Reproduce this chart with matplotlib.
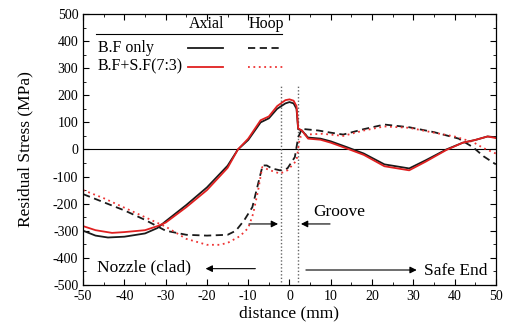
import matplotlib
matplotlib.use("Agg")
import matplotlib.pyplot as plt
from matplotlib.ticker import MultipleLocator

plt.rcParams['font.family'] = ['Liberation Serif', 'DejaVu Serif']
plt.rcParams['axes.unicode_minus'] = False

# axial stress, B.F only
axial_bf_x = [-50, -47, -44, -40, -35, -32, -30, -25, -20, -15, -12.5, -10, -7, -5, -3, -1, 0, 1, 1.7,
              2.1, 3, 4.5, 7.5, 10, 14, 18, 23, 29, 33, 38, 42, 45, 48, 50]
axial_bf_y = [-300, -318, -325, -322, -310, -290, -265, -205, -140, -60, 0, 35, 100, 115, 150, 170, 175, 170, 150,
              75, 70, 44, 40, 30, 8, -15, -55, -70, -40, 0, 25, 35, 48, 45]

# axial stress, B.F+S.F(7:3)
axial_sf_x = [-50, -47, -43, -40, -35, -32, -30, -25, -20, -15, -12.5, -10, -7, -5, -3, -1, 0, 1, 1.7,
              2.1, 3, 4.5, 7.5, 10, 14, 18, 23, 29, 33, 38, 42, 45, 48, 50]
axial_sf_y = [-283, -298, -308, -305, -298, -283, -270, -213, -150, -68, 0, 40, 108, 122, 160, 182, 185, 180, 160,
              78, 70, 40, 36, 25, 3, -20, -62, -77, -45, -2, 25, 35, 48, 42]

# hoop stress, B.F only
hoop_bf_x = [-50, -45, -40, -35, -30, -25, -20, -15, -13, -11, -9, -8, -7, -6.5, -5.5, -4.3, -2.3, -0.5, 1.3,
             2.1, 3, 7, 10, 13, 18, 23, 29, 35, 41, 44.5, 47, 50]
hoop_bf_y = [-165, -195, -225, -260, -300, -315, -318, -315, -300, -262, -213, -151, -89, -59, -59, -70, -77, -70, -28,
             45, 76, 70, 62, 55, 75, 92, 82, 64, 40, 8, -25, -55]

# hoop stress, B.F+S.F(7:3)
hoop_sf_x = [-50, -45, -40, -35, -30, -25, -20, -17, -15, -12, -10, -8.8, -7.6, -6.6, -4.7, -2.3, -0.5, 1.7,
             2.5, 4, 8, 13, 18, 23, 29, 35, 40, 44.5, 47, 50]
hoop_sf_y = [-150, -180, -215, -250, -285, -330, -352, -352, -345, -320, -290, -237, -151, -65, -77, -89, -77, -41,
             45, 55, 58, 50, 70, 85, 80, 62, 48, 27, 5, -15]

groove_x = [-2.1, 2.1]

fig = plt.figure(figsize=(5.07, 3.34), dpi=100)
ax = fig.add_axes([0.164, 0.147, 0.814, 0.811])

ax.axhline(0, color='black', lw=0.8)
for gx in groove_x:
    ax.plot([gx, gx], [-490, 235], color='#666666', lw=1.0, ls=(0, (1, 1.5)))

ax.plot(hoop_bf_x, hoop_bf_y, color='#1a1a1a', lw=1.3, ls=(0, (4, 2.5)))
ax.plot(hoop_sf_x, hoop_sf_y, color='#ee3333', lw=1.3, ls=(0, (1, 2)))
ax.plot(axial_bf_x, axial_bf_y, color='#1a1a1a', lw=1.3)
ax.plot(axial_sf_x, axial_sf_y, color='#e02020', lw=1.3)

# hand-made legend
ax.plot([-47, -1.8], [428, 428], color='black', lw=0.8)
ax.text(-20.2, 432, 'Axial', ha='center', va='bottom', fontsize=11.5)
ax.text(-5.7, 432, 'Hoop', ha='center', va='bottom', fontsize=11.5)
ax.text(-46.5, 376, 'B.F only', ha='left', va='center', fontsize=11.5)
ax.text(-46.5, 306, 'B.F+S.F(7:3)', ha='left', va='center', fontsize=11.5)
ax.plot([-24.6, -16.1], [376, 376], color='#1a1a1a', lw=1.3)
ax.plot([-10, -1.8], [376, 376], color='#1a1a1a', lw=1.3, ls=(0, (4, 2.5)))
ax.plot([-24.6, -16.1], [306, 306], color='#e02020', lw=1.3)
ax.plot([-10, -1.2], [306, 306], color='#ee3333', lw=1.3, ls=(0, (1, 2)))

# region annotations
arrow = dict(arrowstyle='-|>', color='black', lw=0.8, mutation_scale=10)
ax.annotate('', xy=(-2.1, -275), xytext=(-10.5, -275), arrowprops=arrow)
ax.annotate('', xy=(2.1, -275), xytext=(10.5, -275), arrowprops=arrow)
ax.text(5.8, -232, 'Groove', ha='left', va='center', fontsize=12.5)
ax.annotate('', xy=(-21, -440), xytext=(-7.6, -440), arrowprops=arrow)
ax.text(-46.6, -437, 'Nozzle (clad)', ha='left', va='center', fontsize=12.5)
ax.annotate('', xy=(31.5, -445), xytext=(3.3, -445), arrowprops=arrow)
ax.text(32.6, -450, 'Safe End', ha='left', va='center', fontsize=12.5)

ax.set_xlim(-50, 50)
ax.set_ylim(-500, 500)
ax.xaxis.set_major_locator(MultipleLocator(10))
ax.xaxis.set_minor_locator(MultipleLocator(5))
ax.yaxis.set_major_locator(MultipleLocator(100))
ax.yaxis.set_minor_locator(MultipleLocator(50))
ax.tick_params(which='both', direction='in', top=True, right=True, labelsize=10)
ax.tick_params(which='major', length=4)
ax.tick_params(which='minor', length=2)
for s in ax.spines.values():
    s.set_linewidth(0.9)

ax.set_xlabel('distance (mm)', fontsize=12.5, labelpad=2)
ax.set_ylabel('Residual Stress (MPa)', fontsize=12.5, labelpad=14)

fig.savefig('out.png', dpi=100)
